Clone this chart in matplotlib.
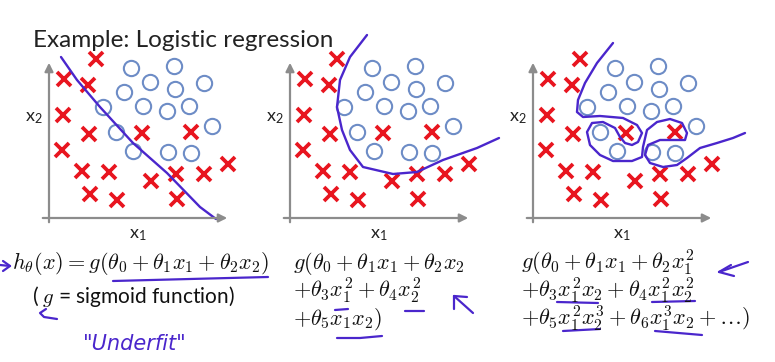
import matplotlib
matplotlib.use('Agg')
import matplotlib.pyplot as plt
from matplotlib.lines import Line2D

plt.rcParams['mathtext.fontset'] = 'cm'
plt.rcParams['font.family'] = ['Lato', 'DejaVu Sans']

W, H = 775, 362

# data (same point cloud in all three panels)
cross_x = [4.7, 1.5, 3.9, 1.4, 4.0, 9.3, 14.2, 1.3, 3.3, 6.0, 10.2, 12.7, 15.5, 17.9, 4.1, 6.8, 12.8]
cross_y = [15.9, 13.9, 13.3, 10.3, 8.4, 8.5, 8.6, 6.8, 4.7, 4.6, 3.7, 4.4, 4.4, 5.4, 2.4, 1.8, 1.9]
circle_x = [8.2, 12.5, 10.1, 15.5, 7.5, 12.6, 5.4, 9.4, 11.8, 14.0, 16.3, 6.7, 8.4, 11.9, 14.2]
circle_y = [15.0, 15.2, 13.6, 13.5, 12.6, 12.9, 11.1, 11.2, 10.7, 11.2, 9.2, 8.6, 6.7, 6.6, 6.5]

# decision boundaries
under_x = [1.2, 2.8, 5.1, 8.4, 11.8, 15.1, 16.7]
under_y = [16.1, 13.8, 11.1, 7.5, 4.5, 1.1, -0.1]
good_x = [7.7, 6.0, 5.0, 4.7, 5.2, 6.0, 7.3, 10.3, 12.7, 15.3, 18.7, 20.9]
good_y = [18.3, 16.1, 13.8, 11.1, 8.8, 6.8, 5.1, 4.4, 4.6, 5.8, 7.0, 8.0]
over_x = [8.0, 6.4, 5.2, 4.5, 4.4, 5.0, 6.7, 9.0, 10.4, 10.9, 10.5, 9.9, 9.2, 8.7, 8.2,
          7.0, 5.9, 5.4, 5.7, 6.7, 8.0, 9.9, 10.9, 11.0, 11.4, 12.4, 13.7, 14.9, 15.4,
          15.2, 14.0, 12.7, 11.5, 11.2, 11.7, 13.0, 14.4, 15.4, 16.7, 18.4, 20.0, 21.2]
over_y = [17.5, 15.5, 13.5, 11.8, 10.6, 10.1, 10.2, 10.0, 9.3, 8.5, 7.6, 7.3, 7.5, 8.1, 9.0,
          9.6, 9.5, 8.6, 7.3, 6.3, 5.7, 5.7, 6.1, 7.1, 8.8, 9.6, 9.9, 9.5, 8.5,
          7.8, 7.8, 7.8, 7.3, 6.3, 5.5, 5.1, 5.3, 6.0, 7.0, 7.5, 8.0, 8.5]

boundaries = [(under_x, under_y), (good_x, good_y), (over_x, over_y)]
origins = [49, 290, 533]

formulas = [
    [r'$h_\theta(x) = g(\theta_0 + \theta_1 x_1 + \theta_2 x_2)$'],
    [r'$g(\theta_0 + \theta_1 x_1 + \theta_2 x_2$',
     r'$+\theta_3 x_1^2 + \theta_4 x_2^2$',
     r'$+\theta_5 x_1 x_2)$'],
    [r'$g(\theta_0 + \theta_1 x_1 + \theta_2 x_1^2$',
     r'$+\theta_3 x_1^2 x_2 + \theta_4 x_1^2 x_2^2$',
     r'$+\theta_5 x_1^2 x_2^3 + \theta_6 x_1^3 x_2 + \ldots)$'],
]
formula_x = [12, 293, 521]

RED = '#e8151f'
BLUE = '#6d8cc6'
GRAY = '#8c8c8c'
PEN = '#4a26cc'

fig = plt.figure(figsize=(W / 100, H / 100), dpi=100)


def fx(x):
    return x / W


def fy(y):
    return 1 - y / H


fig.text(fx(33), fy(47), 'Example: Logistic regression', fontsize=17.5, color='#222222')

for ox, (bx, by) in zip(origins, boundaries):
    ax = fig.add_axes([fx(ox - 20), fy(238), 240 / W, 220 / H])
    ax.set_xlim(-2, 22)
    ax.set_ylim(-2, 20)
    ax.axis('off')
    ax.annotate('', xy=(18.1, 0), xytext=(-0.9, 0),
                arrowprops=dict(arrowstyle='-|>,head_length=0.5,head_width=0.25', color=GRAY, lw=1.6))
    ax.annotate('', xy=(0, 15.8), xytext=(0, -0.7),
                arrowprops=dict(arrowstyle='-|>,head_length=0.5,head_width=0.25', color=GRAY, lw=1.6))
    ax.plot(circle_x, circle_y, 'o', ms=11, mfc='none', mec=BLUE, mew=1.5, clip_on=False)
    ax.plot(cross_x, cross_y, 'x', ms=10, mec=RED, mew=2.7, clip_on=False)
    ax.plot(bx, by, color=PEN, lw=1.7, solid_joinstyle='round', solid_capstyle='round', clip_on=False)
    ax.text(-1.5, 10.0, r'$\mathregular{x_2}$', fontsize=13, ha='center', va='center', color='#222222')
    ax.text(8.9, -1.7, r'$\mathregular{x_1}$', fontsize=13, ha='center', va='center', color='#222222')

baselines = [269, 297, 325]
for x0, rows in zip(formula_x, formulas):
    for i, row in enumerate(rows):
        fig.text(fx(x0), fy(baselines[i]), row, fontsize=16, va='baseline', color='#111111')

fig.text(fx(32), fy(303), r'( $g$ = sigmoid function)', fontsize=15, va='baseline', color='#111111')
fig.text(fx(135), fy(350), '"Underfit"', fontsize=15, style='italic', ha='center', va='baseline',
         color=PEN, family='DejaVu Sans')

# hand-drawn pen strokes (pixel coordinates)
strokes = [
    [(0, 265), (10, 266)], [(3, 261), (10, 266), (3, 271)],
    [(113, 281), (190, 279), (268, 277)],
    [(46, 309), (40, 313), (44, 317), (57, 319)],
    [(335, 310), (348, 309)], [(405, 311), (424, 311)],
    [(337, 338), (360, 338), (382, 336)],
    [(473, 313), (454, 296)], [(454, 309), (454, 296), (467, 297)],
    [(748, 262), (719, 272)], [(731, 265), (719, 272), (734, 276)],
    [(557, 302), (598, 303)], [(652, 302), (695, 301)],
    [(563, 331), (600, 329)], [(655, 331), (702, 335)],
]
for s in strokes:
    fig.add_artist(Line2D([fx(p[0]) for p in s], [fy(p[1]) for p in s], transform=fig.transFigure,
                          color=PEN, lw=1.6, solid_capstyle='round', solid_joinstyle='round'))

fig.savefig('out.png', dpi=100, facecolor='white')
